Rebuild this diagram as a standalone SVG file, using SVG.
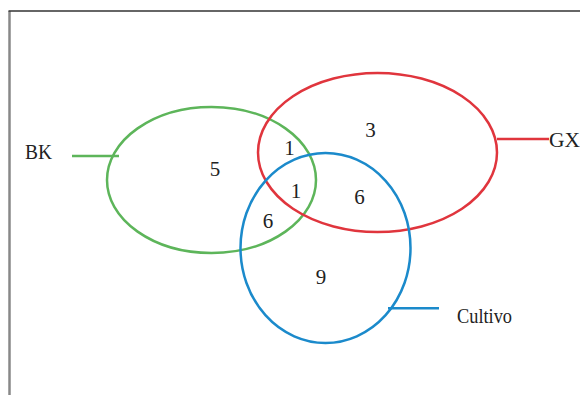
<svg xmlns="http://www.w3.org/2000/svg" width="580" height="395" viewBox="0 0 580 395">
<style>
.lbl{font-family:"Liberation Serif","Times New Roman",serif;font-size:21px;fill:#222}
.num{font-family:"Liberation Serif","Times New Roman",serif;font-size:21px;fill:#222;text-anchor:middle}
.set{fill:none;stroke-width:2.5}
</style>
<rect width="580" height="395" fill="#fff"/>
<g id="frame">
<line x1="9.5" y1="11" x2="9.5" y2="395" stroke="#888" stroke-width="2.5"/>
<line x1="8.5" y1="11" x2="580" y2="11" stroke="#333" stroke-width="1.5"/>
</g>
<g id="BK">
<ellipse class="set" cx="211.5" cy="180" rx="104.5" ry="73" stroke="#5DB55A"/>
<text class="lbl" x="25" y="159" textLength="27" lengthAdjust="spacingAndGlyphs">BK</text>
</g>
<g id="GX">
<ellipse class="set" cx="377.5" cy="152.5" rx="119.5" ry="79.5" stroke="#E0353D"/>
<text class="lbl" x="549" y="147" textLength="31" lengthAdjust="spacingAndGlyphs">GX</text>
</g>
<g id="Cultivo">
<ellipse class="set" cx="325.5" cy="248" rx="85" ry="95" stroke="#1B8ACB"/>
<text class="lbl" x="457" y="322.5" textLength="55" lengthAdjust="spacingAndGlyphs">Cultivo</text>
</g>
<g id="connectors">
<line x1="72" y1="156" x2="119" y2="156" stroke="#5DB55A" stroke-width="2.5"/>
<line x1="497" y1="139" x2="549" y2="139" stroke="#E0353D" stroke-width="2.5"/>
<line x1="388" y1="308.3" x2="439" y2="308.3" stroke="#1B8ACB" stroke-width="2.5"/>
</g>
<g id="counts">
<text class="num" x="370.5" y="137">3</text>
<text class="num" x="289.5" y="155">1</text>
<text class="num" x="296" y="197.5">1</text>
<text class="num" x="215" y="176">5</text>
<text class="num" x="268" y="227.7">6</text>
<text class="num" x="359.5" y="204">6</text>
<text class="num" x="321" y="284">9</text>
</g>
</svg>
